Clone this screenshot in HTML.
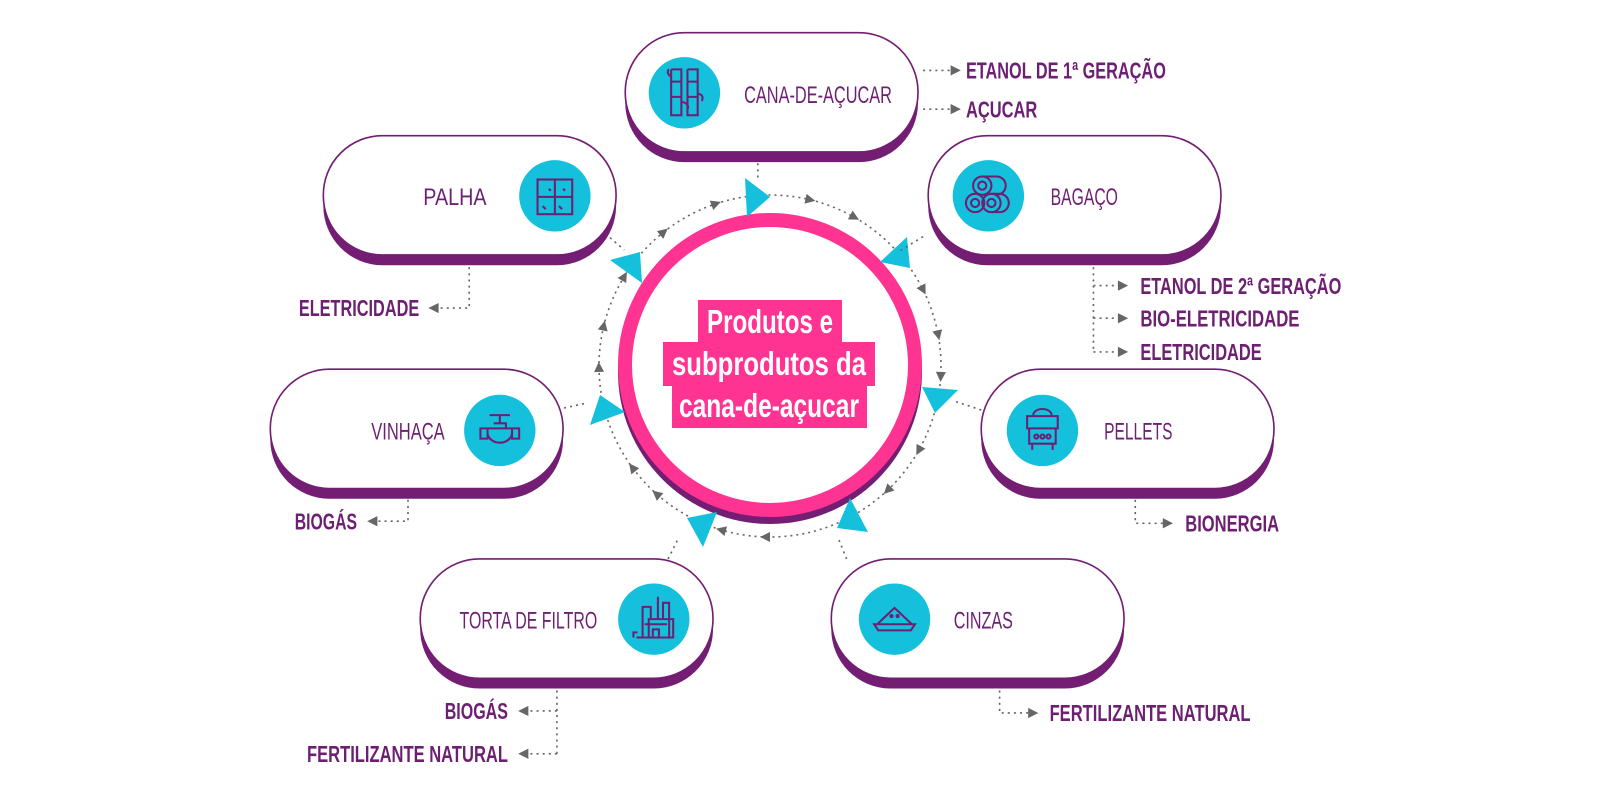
<!DOCTYPE html>
<html><head><meta charset="utf-8"><style>
html,body{margin:0;padding:0;background:#fff;width:1600px;height:800px;overflow:hidden}
svg{display:block}
.pt{font-family:"Liberation Sans",sans-serif;font-size:24px;fill:#6d1f72}
.ot{font-family:"Liberation Sans",sans-serif;font-size:23px;font-weight:bold;fill:#6d1f72}
.ct{font-family:"Liberation Sans",sans-serif;font-size:33px;font-weight:bold;fill:#fff}
.dl{stroke:#666;stroke-width:1.6;stroke-dasharray:2 4;fill:none}
.ic{stroke:#6d1f72;stroke-width:2;fill:none}
</style></head><body>
<svg width="1600" height="800" viewBox="0 0 1600 800" xmlns="http://www.w3.org/2000/svg">
<defs>
<g id="pill"><rect x="0" y="10" width="287" height="117" rx="58" fill="#731d73"/><rect x="0" y="0" width="287" height="117" rx="58" fill="#fff" stroke="#731d73" stroke-width="1.6"/></g>
<polygon id="ah" points="0,-5 10,0 0,5" fill="#666"/>
<polygon id="al" points="10,-5 0,0 10,5" fill="#666"/>
</defs>

<circle cx="770" cy="366" r="171" class="dl"/>
<g>
<use href="#ah" transform="rotate(-60 770 366) translate(770 195)"/>
<use href="#ah" transform="rotate(-40 770 366) translate(770 195)"/>
<use href="#ah" transform="rotate(-20 770 366) translate(770 195)"/>
<use href="#ah" transform="rotate(12 770 366) translate(770 195)"/>
<use href="#ah" transform="rotate(28 770 366) translate(770 195)"/>
<use href="#ah" transform="rotate(62 770 366) translate(770 195)"/>
<use href="#ah" transform="rotate(78 770 366) translate(770 195)"/>
<use href="#ah" transform="rotate(92 770 366) translate(770 195)"/>
<use href="#ah" transform="rotate(118 770 366) translate(770 195)"/>
<use href="#ah" transform="rotate(135 770 366) translate(770 195)"/>
<use href="#ah" transform="rotate(152 770 366) translate(770 195)"/>
<use href="#ah" transform="rotate(180 770 366) translate(770 195)"/>
<use href="#ah" transform="rotate(195 770 366) translate(770 195)"/>
<use href="#ah" transform="rotate(220 770 366) translate(770 195)"/>
<use href="#ah" transform="rotate(232 770 366) translate(770 195)"/>
<use href="#ah" transform="rotate(268 770 366) translate(770 195)"/>
<use href="#ah" transform="rotate(282 770 366) translate(770 195)"/>
</g>

<circle cx="770" cy="372" r="152" fill="#731d73"/>
<circle cx="770" cy="365" r="145" fill="#fff" stroke="#ff3391" stroke-width="14"/>
<rect x="698" y="300" width="144" height="43" fill="#ff3391"/>
<rect x="663" y="342" width="212" height="44" fill="#ff3391"/>
<rect x="672" y="385" width="195" height="43" fill="#ff3391"/>
<text class="ct" x="770" y="333" text-anchor="middle" textLength="126" lengthAdjust="spacingAndGlyphs">Produtos e</text>
<text class="ct" x="769" y="375" text-anchor="middle" textLength="194" lengthAdjust="spacingAndGlyphs">subprodutos da</text>
<text class="ct" x="769" y="417" text-anchor="middle" textLength="180" lengthAdjust="spacingAndGlyphs">cana-de-açucar</text>

<g fill="#14c0dc">
<polygon points="745,178 770,197 747,217"/>
<polygon points="880,262 907,237 910,268"/>
<polygon points="922,387 958,390 935,413"/>
<polygon points="837,528 850,498 868,532"/>
<polygon points="687,518 717,512 703,547"/>
<polygon points="590,425 600,395 625,412"/>
<polygon points="610,260 640,252 642,283"/>
</g>

<g transform="scale(1.02)">
<path class="dl" d="M743,160 L743,176 M598,233 L612,245 M905,232 L882,246 M553,400 L576,395 M962,402 L935,393 M655,548 L665,528 M830,548 L822,528"/>

<use href="#pill" x="613" y="32"/>
<use href="#pill" x="317" y="133"/>
<use href="#pill" x="910" y="133"/>
<use href="#pill" x="265" y="362"/>
<use href="#pill" x="962" y="362"/>
<use href="#pill" x="412" y="548"/>
<use href="#pill" x="815" y="548"/>

<g fill="#14c0dc">
<circle cx="671" cy="91" r="35"/><circle cx="544" cy="192" r="35"/><circle cx="969" cy="192" r="35"/>
<circle cx="490" cy="422" r="35"/><circle cx="1022" cy="422" r="35"/><circle cx="641" cy="607" r="35"/><circle cx="877" cy="607" r="35"/>
</g>
<g class="ic">
<path d="M658,68v45h10v-45h-10M674,68v45h10v-45h-10M658,80h10M658,95h10M674,80h10M674,95h10M668,100c4,0 8,3 6,7M684,92c4,0 6,3 4,7M658,75c-4,-2 -4,-6 -2,-7"/>
<rect x="527" y="176" width="34" height="34"/><path d="M527,193h34M544,176v34M532,202l3,3M548,202l3,3M538,185l2,2M552,185l2,2"/>
<circle cx="963" cy="182" r="9"/><circle cx="963" cy="182" r="4"/><circle cx="956" cy="199" r="9"/><circle cx="956" cy="199" r="4"/><circle cx="972" cy="199" r="9"/><circle cx="972" cy="199" r="4"/><path d="M963,173h14a9,9 0 0 1 0,18M972,190h8a9,9 0 0 1 0,18h-8"/>
<path d="M480,407h20M490,407v8M484,415h12v6M478,424a12,10 0 0 0 24,0v-4h-24zM471,420h7v10h-7zM502,420h7v10h-7z"/>
<path d="M1007,408h30v12h-30zM1009,420v15h26v-15M1012,435v6M1032,435v6M1013,407a9,6 0 0 1 18,0"/><circle cx="1016" cy="428" r="2"/><circle cx="1022" cy="428" r="2"/><circle cx="1028" cy="428" r="2"/>
<path d="M624,625h36v-18h-24v18M630,625v-30h8v12M645,607v-22M650,607v-16h6v34M632,612h22M625,620h-4v5M640,625v-8h6v8"/>
<path d="M860,612l17,-16l17,16zM857,612h40l-4,6h-32z"/><circle cx="874" cy="604" r="1"/><circle cx="880" cy="604" r="1"/>
</g>

<text class="pt" x="802" y="101" text-anchor="middle" textLength="145" lengthAdjust="spacingAndGlyphs">CANA-DE-AÇUCAR</text>
<text class="pt" x="446" y="201" text-anchor="middle" textLength="62" lengthAdjust="spacingAndGlyphs">PALHA</text>
<text class="pt" x="1063" y="201" text-anchor="middle" textLength="66" lengthAdjust="spacingAndGlyphs">BAGAÇO</text>
<text class="pt" x="400" y="431" text-anchor="middle" textLength="72" lengthAdjust="spacingAndGlyphs">VINHAÇA</text>
<text class="pt" x="1116" y="431" text-anchor="middle" textLength="67" lengthAdjust="spacingAndGlyphs">PELLETS</text>
<text class="pt" x="518" y="616" text-anchor="middle" textLength="135" lengthAdjust="spacingAndGlyphs">TORTA DE FILTRO</text>
<text class="pt" x="964" y="616" text-anchor="middle" textLength="58" lengthAdjust="spacingAndGlyphs">CINZAS</text>

<path class="dl" d="M905,69H932M905,107H932M1072,262V345M1072,280H1096M1072,312H1096M1072,345H1096M460,262V302H431M400,490V511H371M1113,490V513H1140M546,677V739M546,697H519M546,739H519M980,677V699H1008"/>
<use href="#ah" x="932" y="69"/><use href="#ah" x="932" y="107"/>
<use href="#ah" x="1096" y="280"/><use href="#ah" x="1096" y="312"/><use href="#ah" x="1096" y="345"/>
<use href="#al" x="420" y="302"/><use href="#al" x="360" y="511"/>
<use href="#ah" x="1140" y="513"/><use href="#al" x="508" y="697"/><use href="#al" x="508" y="739"/>
<use href="#ah" x="1008" y="699"/>

<text class="ot" x="947" y="77" textLength="196" lengthAdjust="spacingAndGlyphs">ETANOL DE 1ª GERAÇÃO</text>
<text class="ot" x="947" y="115" textLength="70" lengthAdjust="spacingAndGlyphs">AÇUCAR</text>
<text class="ot" x="1118" y="288" textLength="197" lengthAdjust="spacingAndGlyphs">ETANOL DE 2ª GERAÇÃO</text>
<text class="ot" x="1118" y="320" textLength="156" lengthAdjust="spacingAndGlyphs">BIO-ELETRICIDADE</text>
<text class="ot" x="1118" y="353" textLength="119" lengthAdjust="spacingAndGlyphs">ELETRICIDADE</text>
<text class="ot" x="293" y="310" textLength="118" lengthAdjust="spacingAndGlyphs">ELETRICIDADE</text>
<text class="ot" x="289" y="519" textLength="61" lengthAdjust="spacingAndGlyphs">BIOGÁS</text>
<text class="ot" x="1162" y="521" textLength="92" lengthAdjust="spacingAndGlyphs">BIONERGIA</text>
<text class="ot" x="436" y="705" textLength="62" lengthAdjust="spacingAndGlyphs">BIOGÁS</text>
<text class="ot" x="301" y="747" textLength="197" lengthAdjust="spacingAndGlyphs">FERTILIZANTE NATURAL</text>
<text class="ot" x="1029" y="707" textLength="197" lengthAdjust="spacingAndGlyphs">FERTILIZANTE NATURAL</text>
</g>
</svg>
</body></html>
